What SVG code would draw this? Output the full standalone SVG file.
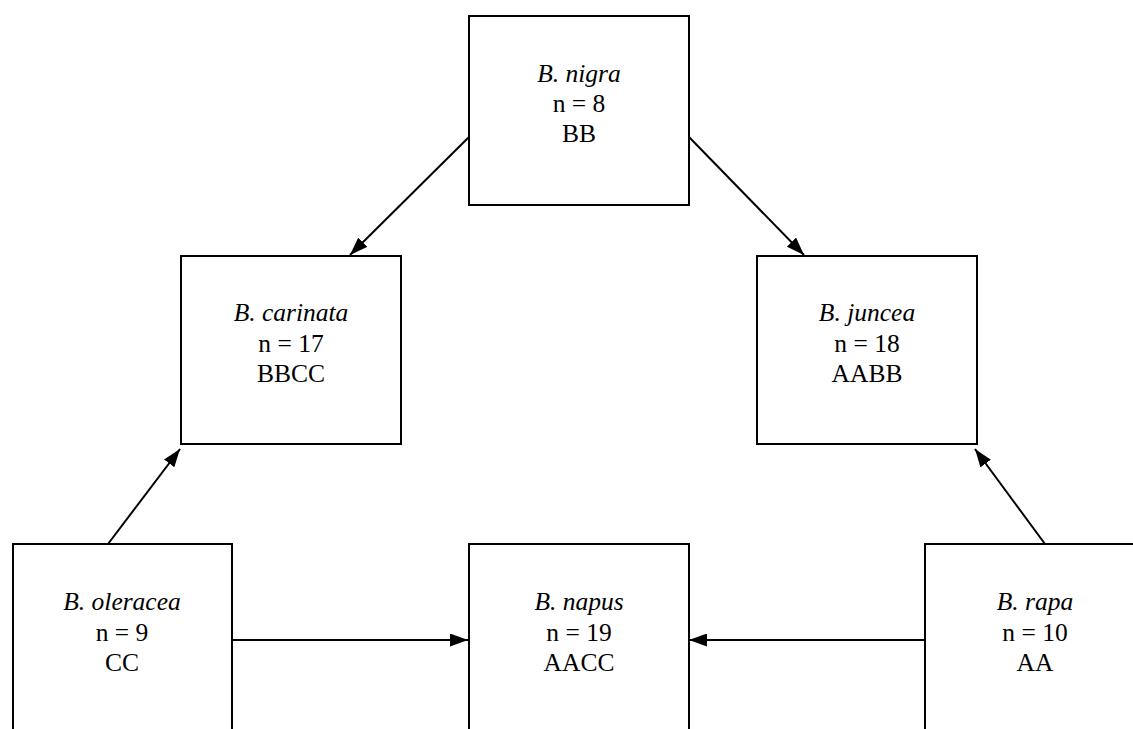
<svg xmlns="http://www.w3.org/2000/svg" width="1133" height="729" viewBox="0 0 1133 729">
<defs>
<style>
rect.box{fill:#fff;stroke:#000;stroke-width:2}
text{font-family:"Liberation Serif","Times New Roman",serif;font-size:25.5px;fill:#000;text-anchor:middle}
.it{font-style:italic}
line.c{stroke:#000;stroke-width:2}
</style>
<marker id="ah" viewBox="0 0 18 13" refX="18" refY="6.5" markerWidth="18" markerHeight="13" markerUnits="userSpaceOnUse" orient="auto">
<path d="M0,0 L18,6.5 L0,13 Z" fill="#000"/>
</marker>
</defs>
<rect width="1133" height="729" fill="#fff"/>
<g id="connectors">
<line class="c" x1="469" y1="137" x2="350" y2="255" marker-end="url(#ah)"/>
<line class="c" x1="689" y1="137" x2="804" y2="255" marker-end="url(#ah)"/>
<line class="c" x1="108" y1="544" x2="180" y2="449" marker-end="url(#ah)"/>
<line class="c" x1="1045" y1="544" x2="975" y2="449" marker-end="url(#ah)"/>
<line class="c" x1="232" y1="640" x2="468" y2="640" marker-end="url(#ah)"/>
<line class="c" x1="925" y1="640" x2="689" y2="640" marker-end="url(#ah)"/>
</g>
<g id="nigra" font-family="Liberation Serif">
<rect class="box" x="469" y="16" width="220" height="189"/>
<text x="579" y="82" class="it">B. nigra</text>
<text x="579" y="112">n = 8</text>
<text x="579" y="142">BB</text>
</g>
<g id="carinata">
<rect class="box" x="181" y="256" width="220" height="188"/>
<text x="291" y="321" class="it">B. carinata</text>
<text x="291" y="352">n = 17</text>
<text x="291" y="382">BBCC</text>
</g>
<g id="juncea">
<rect class="box" x="757" y="256" width="220" height="188"/>
<text x="867" y="321" class="it">B. juncea</text>
<text x="867" y="352">n = 18</text>
<text x="867" y="382">AABB</text>
</g>
<g id="oleracea">
<rect class="box" x="13" y="544" width="219" height="200"/>
<text x="122" y="610" class="it">B. oleracea</text>
<text x="122" y="641">n = 9</text>
<text x="122" y="671">CC</text>
</g>
<g id="napus">
<rect class="box" x="469" y="544" width="220" height="200"/>
<text x="579" y="610" class="it">B. napus</text>
<text x="579" y="641">n = 19</text>
<text x="579" y="671">AACC</text>
</g>
<g id="rapa">
<rect class="box" x="925" y="544" width="220" height="200"/>
<text x="1035" y="610" class="it">B. rapa</text>
<text x="1035" y="641">n = 10</text>
<text x="1035" y="671">AA</text>
</g>
</svg>
